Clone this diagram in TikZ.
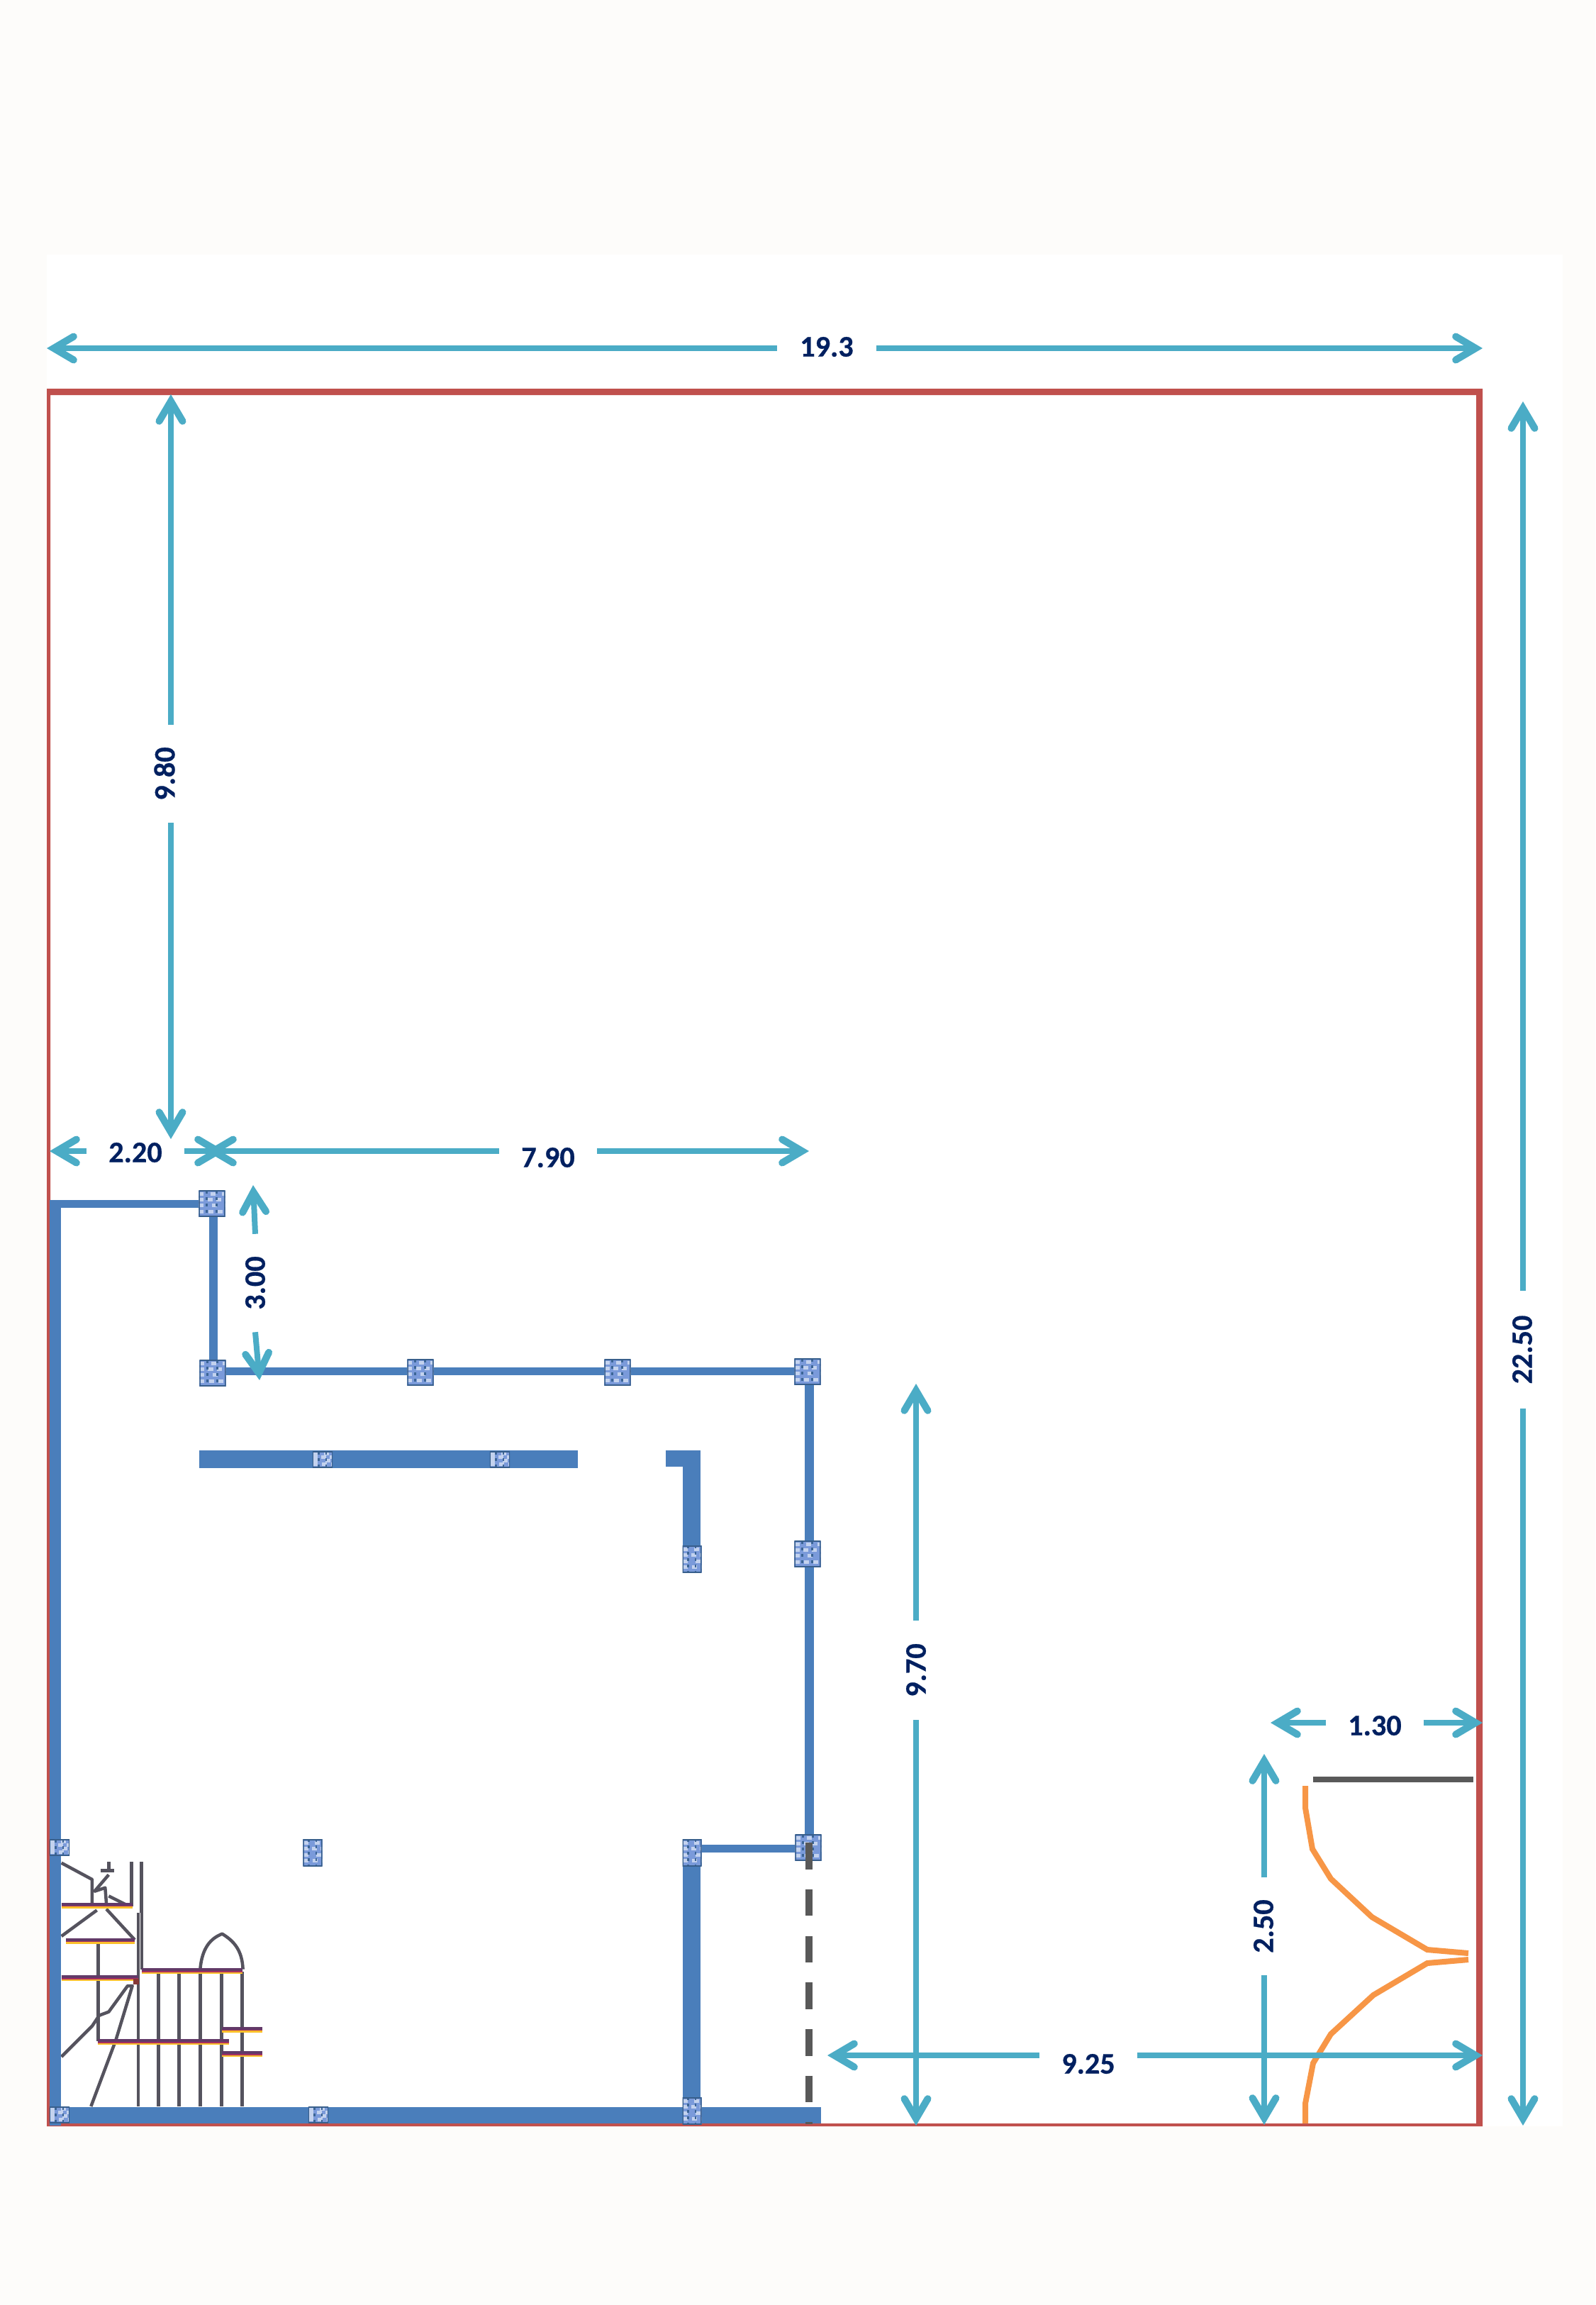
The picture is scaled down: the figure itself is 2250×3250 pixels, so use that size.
\documentclass[tikz,border=0pt]{standalone}
\usepackage{fontspec}
\setmainfont[BoldFeatures={FakeBold=0.5}]{Carlito}
\usetikzlibrary{arrows.meta,calc}
\definecolor{pagebg}{HTML}{FDFCFA}
\definecolor{framered}{HTML}{C0504D}
\definecolor{wallblue}{HTML}{4A7EBB}
\definecolor{dimblue}{HTML}{4BACC6}
\definecolor{labelnavy}{HTML}{002060}
\definecolor{lineorange}{HTML}{F79646}
\definecolor{linegray}{HTML}{595959}
\definecolor{pillarblue}{HTML}{7A9ADA}
\definecolor{sketchgray}{HTML}{55535E}
\tikzset{
  dimarrow/.style={draw=dimblue, line width=0.08cm, -{Straight Barb[length=0.28cm,width=0.33cm,line width=0.1cm,line cap=round,line join=miter]}},
  dimlabel/.style={font=\fontsize{12pt}{14pt}\selectfont\bfseries, text=labelnavy, inner sep=0pt, minimum height=0.3cm, minimum width=#1},
  wall/.style={fill=wallblue},
  pillar/.style={inner sep=0pt, fill=pillarblue, path picture={
      \def\bb{path picture bounding box}
      \foreach \i/\o in {0.14/0.09,0.36/0.05,0.58/0.11,0.8/0.06}
        \draw[white!55!pillarblue, line width=0.05cm, dash pattern=on 0.07cm off \o cm]
          ($(\bb.north west)!\i!(\bb.south west)$) -- ($(\bb.north east)!\i!(\bb.south east)$);
      \foreach \i in {0.3,0.68}
        \draw[wallblue!80!black, line width=0.025cm, dash pattern=on 0.04cm off 0.05cm]
          ($(\bb.north west)!\i!(\bb.north east)$) -- ($(\bb.south west)!\i!(\bb.south east)$);
      \draw[wallblue!75!black, line width=0.03cm] (\bb.north west) rectangle (\bb.south east);
    }},
  pillarbig/.style={pillar, minimum width=0.37cm, minimum height=0.37cm},
  pillarslim/.style={pillar, minimum width=0.27cm, minimum height=0.38cm},
  pillarlow/.style={pillar, minimum width=0.28cm, minimum height=0.23cm},
  sketchline/.style={draw=sketchgray, line width=0.045cm, line join=round},
  sketchband/.style={draw=#1, line width=0.04cm}
}
\begin{document}
\begin{tikzpicture}[x=0.01cm, y=-0.01cm]
  \useasboundingbox (0,0) rectangle (2250,3250);
  \fill[pagebg] (0,0) rectangle (2250,3250);
  \fill[white] (66,359) rectangle (2204,2998);

  % frame of the plot
  \fill[framered, even odd rule] (66,548) rectangle (2091,2998) (71,557) rectangle (2082,2994);

  % stairs sketch
  \begin{scope}[shift={(40,2550)}, scale=0.3333]
    \draw[sketchline] (437,225) -- (437,415) (478,225) -- (478,440);
    \draw[sketchline] (140,230) -- (270,300) -- (270,400);
    \draw[sketchline] (340,225) -- (340,260) (305,262) -- (362,262);
    \draw[sketchline] (340,280) -- (280,350) -- (325,335) -- (330,400);
    \draw[sketchline] (340,370) -- (430,415);
    \draw[sketchline] (140,540) -- (290,430) (330,425) -- (450,555);
    \draw[sketchline] (295,560) -- (295,985);
    \draw[sketchline] (465,440) -- (465,1260) (480,440) -- (480,680);
    \foreach \x in {550,638,727,818,905}
      \draw[sketchline] (\x,690) -- (\x,1260);
    \draw[sketchline] (727,680) .. controls (735,590) and (770,550) .. (820,530) .. controls (870,560) and (905,600) .. (908,680);
    \draw[sketchline] (140,1050) -- (270,920) -- (300,875) -- (340,860) -- (420,750) -- (440,750) -- (370,980) -- (265,1260);
    \foreach \xa/\xb/\yy in {140/440/407,160/450/557,140/465/715,480/905/685,295/850/985,820/990/932,820/990/1035} {
      \draw[sketchband=lineorange!60!yellow] (\xa,\yy+9) -- (\xb,\yy+9);
      \draw[sketchband=framered!60!violet] (\xa,\yy+2) -- (\xb,\yy+2);
      \draw[sketchband=sketchgray!70!violet] (\xa,\yy-3) -- (\xb,\yy-3);
    }
    \fill[framered!70!black] (445,720) rectangle (467,745);
  \end{scope}

  % walls
  \fill[wall] (70,1692) rectangle (86,2997);
  \fill[wall] (70,1692) rectangle (285,1703);
  \fill[wall] (295,1703) rectangle (307,1930);
  \fill[wall] (300,1928) rectangle (1140,1939);
  \fill[wall] (1135,1930) rectangle (1148,2610);
  \fill[wall] (281,2045) rectangle (815,2070);
  \fill[wall] (939,2045) rectangle (988,2068);
  \fill[wall] (963,2045) rectangle (988,2185);
  \fill[wall] (985,2601) rectangle (1125,2612);
  \fill[wall] (963,2610) rectangle (988,2980);
  \fill[wall] (70,2971) rectangle (1158,2994);

  % pillars
  \node[pillarbig] (p1) at (299,1697) {};
  \node[pillarbig] (p2) at (300,1936) {};
  \node[pillarbig] (p3) at (593,1935) {};
  \node[pillarbig] (p4) at (871,1935) {};
  \node[pillarbig] (p5) at (1139,1934) {};
  \node[pillarbig] (p6) at (1139,2191) {};
  \node[pillarbig] (p7) at (1140,2605) {};
  \node[pillarslim] (p8) at (976,2198) {};
  \node[pillarslim] (p9) at (976,2612) {};
  \node[pillarslim] (p10) at (441,2612) {};
  \node[pillarlow] (p11) at (455,2058) {};
  \node[pillarlow] (p12) at (705,2058) {};
  \node[pillarlow] (p13) at (84,2605) {};
  \node[pillarlow] (p14) at (84,2982) {};
  \node[pillarlow] (p15) at (449,2982) {};
  \node[pillarslim] (p16) at (976,2976) {};

  % gray lines
  \draw[linegray, line width=0.1cm, dash pattern=on 0.376cm off 0.281cm] (1141,2598) -- (1141,2995);
  \draw[linegray, line width=0.08cm] (1852,2509) -- (2078,2509);

  % orange curves
  \draw[lineorange, line width=0.08cm] (1841,2518) -- (1841,2549) -- (1851,2607) -- (1877,2649) -- (1935,2703) -- (2013,2749) -- (2071,2754);
  \draw[lineorange, line width=0.08cm] (2071,2763) -- (2013,2768) -- (1937,2813) -- (1877,2868) -- (1852,2909) -- (1841,2966) -- (1841,2994);

  % dimension ends
  \coordinate (d193L) at (66,491);
  \coordinate (d193R) at (2091,491);
  \coordinate (d225T) at (2148,566);
  \coordinate (d225B) at (2148,2997);
  \coordinate (d980T) at (241,556);
  \coordinate (d980B) at (241,1606);
  \coordinate (d220L) at (70,1623);
  \coordinate (d220R) at (317,1623);
  \coordinate (d790L) at (291,1623);
  \coordinate (d790R) at (1141,1623);
  \coordinate (d300T) at (357,1671);
  \coordinate (d300B) at (366,1946);
  \coordinate (d970T) at (1292,1951);
  \coordinate (d970B) at (1292,2997);
  \coordinate (d925L) at (1167,2898);
  \coordinate (d925R) at (2091,2898);
  \coordinate (d130L) at (1792,2429);
  \coordinate (d130R) at (2091,2429);
  \coordinate (d250T) at (1783,2473);
  \coordinate (d250B) at (1783,2996);

  % dimension labels
  \node[dimlabel=1.39cm] (l193) at (1166,489) {19.3};
  \node[dimlabel=1.64cm, rotate=90] (l225) at (2147,1903) {22.50};
  \node[dimlabel=1.37cm, rotate=90] (l980) at (232,1091) {9.80};
  \node[dimlabel=1.36cm] (l220) at (191,1625) {2.20};
  \node[dimlabel=1.37cm] (l790) at (773,1632) {7.90};
  \node[dimlabel=1.37cm, rotate=90] (l300) at (360,1809) {3.00};
  \node[dimlabel=1.39cm, rotate=90] (l970) at (1292,2355) {9.70};
  \node[dimlabel=1.37cm] (l925) at (1535,2910) {9.25};
  \node[dimlabel=1.36cm] (l130) at (1939,2433) {1.30};
  \node[dimlabel=1.36cm, rotate=90] (l250) at (1782,2716) {2.50};

  % dimension arrows
  \draw[dimarrow] (l193.west |- d193L) -- (d193L);
  \draw[dimarrow] (l193.east |- d193R) -- (d193R);
  \draw[dimarrow] (d225T |- l225.east) -- (d225T);
  \draw[dimarrow] (d225B |- l225.west) -- (d225B);
  \draw[dimarrow] (d980T |- l980.east) -- (d980T);
  \draw[dimarrow] (d980B |- l980.west) -- (d980B);
  \draw[dimarrow] (l220.west |- d220L) -- (d220L);
  \draw[dimarrow] (l220.east |- d220R) -- (d220R);
  \draw[dimarrow] (l790.west |- d790L) -- (d790L);
  \draw[dimarrow] (l790.east |- d790R) -- (d790R);
  \draw[dimarrow] (l300.east) -- (d300T);
  \draw[dimarrow] (l300.west) -- (d300B);
  \draw[dimarrow] (d970T |- l970.east) -- (d970T);
  \draw[dimarrow] (d970B |- l970.west) -- (d970B);
  \draw[dimarrow] (l925.west |- d925L) -- (d925L);
  \draw[dimarrow] (l925.east |- d925R) -- (d925R);
  \draw[dimarrow] (l130.west |- d130L) -- (d130L);
  \draw[dimarrow] (l130.east |- d130R) -- (d130R);
  \draw[dimarrow] (d250T |- l250.east) -- (d250T);
  \draw[dimarrow] (d250B |- l250.west) -- (d250B);
\end{tikzpicture}
\end{document}
